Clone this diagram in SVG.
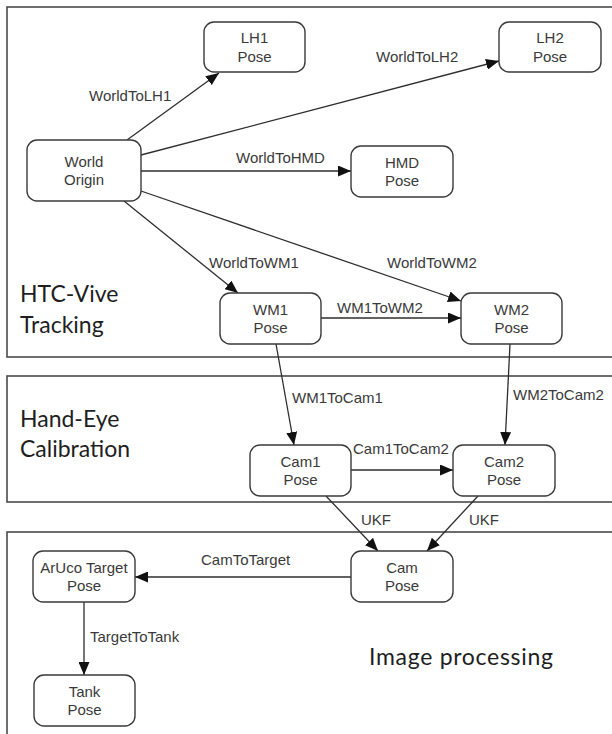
<svg xmlns="http://www.w3.org/2000/svg" width="612" height="734" viewBox="0 0 612 734">
  <style>
    .panel { fill: none; stroke: #4a4a4a; stroke-width: 1.6; }
    .node rect { fill: #ffffff; stroke: #3a3a3a; stroke-width: 1.4; }
    .node text, .lbl { font-family: "Liberation Sans", Arial, sans-serif; font-size: 15px; fill: #3a3a3a; text-anchor: middle; }
    .lbl { text-anchor: start; }
    .title { font-family: Lato, "Open Sans", sans-serif; font-size: 23px; fill: #1e1e1e; }
    .edges line { stroke: #2e2e2e; stroke-width: 1.3; marker-end: url(#arrow); }
  </style>
  <defs>
    <marker id="arrow" viewBox="0 0 13 11" refX="13" refY="5.5" markerWidth="13" markerHeight="11" markerUnits="userSpaceOnUse" orient="auto">
      <path d="M0,0 L13,5.5 L0,11 Z" fill="#111111"/>
    </marker>
  </defs>
  <rect width="612" height="734" fill="#ffffff"/>

  <!-- stage panels -->
  <g id="panels">
    <rect class="panel" x="7" y="7" width="620" height="350"/>
    <rect class="panel" x="7" y="376" width="620" height="126"/>
    <rect class="panel" x="7" y="532" width="620" height="220"/>
    <text class="title" x="20" y="302">HTC-Vive</text>
    <text class="title" x="20" y="333">Tracking</text>
    <text class="title" x="20" y="427">Hand-Eye</text>
    <text class="title" x="20" y="457">Calibration</text>
    <text class="title" x="369" y="665" textLength="184">Image processing</text>
  </g>

  <!-- connectors -->
  <g id="edges" class="edges">
    <line x1="127" y1="140" x2="219" y2="73"/>
    <line x1="141" y1="155" x2="499" y2="61"/>
    <line x1="141" y1="171" x2="351" y2="171"/>
    <line x1="124" y1="201" x2="238" y2="293"/>
    <line x1="141" y1="191" x2="461" y2="301"/>
    <line x1="321" y1="318" x2="461" y2="318"/>
    <line x1="276" y1="344" x2="294" y2="445"/>
    <line x1="510" y1="344" x2="505" y2="445"/>
    <line x1="351" y1="470" x2="453" y2="470"/>
    <line x1="326" y1="496" x2="378" y2="551"/>
    <line x1="478" y1="496" x2="427" y2="551"/>
    <line x1="351" y1="577" x2="135" y2="577"/>
    <line x1="84" y1="602" x2="84" y2="675"/>
  </g>

  <!-- connector labels -->
  <g id="edge-labels">
    <text class="lbl" x="89" y="101">WorldToLH1</text>
    <text class="lbl" x="376" y="62">WorldToLH2</text>
    <text class="lbl" x="236" y="163">WorldToHMD</text>
    <text class="lbl" x="209" y="268">WorldToWM1</text>
    <text class="lbl" x="387" y="268">WorldToWM2</text>
    <text class="lbl" x="337" y="313">WM1ToWM2</text>
    <text class="lbl" x="292" y="403">WM1ToCam1</text>
    <text class="lbl" x="513" y="400">WM2ToCam2</text>
    <text class="lbl" x="353" y="454">Cam1ToCam2</text>
    <text class="lbl" x="361" y="525">UKF</text>
    <text class="lbl" x="469" y="525">UKF</text>
    <text class="lbl" x="201" y="565">CamToTarget</text>
    <text class="lbl" x="90" y="642">TargetToTank</text>
  </g>

  <!-- nodes -->
  <g id="lh1" class="node"><rect x="204" y="22" width="101" height="50" rx="10"/><text x="254.5" y="43">LH1</text><text x="254.5" y="62">Pose</text></g>
  <g id="lh2" class="node"><rect x="499" y="22" width="102" height="50" rx="10"/><text x="550" y="43">LH2</text><text x="550" y="62">Pose</text></g>
  <g id="world" class="node"><rect x="27" y="140" width="114" height="61" rx="10"/><text x="84" y="167">World</text><text x="84" y="185">Origin</text></g>
  <g id="hmd" class="node"><rect x="351" y="146" width="102" height="51" rx="10"/><text x="402" y="168">HMD</text><text x="402" y="186">Pose</text></g>
  <g id="wm1" class="node"><rect x="220" y="293" width="101" height="51" rx="10"/><text x="270.5" y="315">WM1</text><text x="270.5" y="333">Pose</text></g>
  <g id="wm2" class="node"><rect x="461" y="293" width="101" height="51" rx="10"/><text x="511.5" y="315">WM2</text><text x="511.5" y="333">Pose</text></g>
  <g id="cam1" class="node"><rect x="250" y="445" width="101" height="51" rx="10"/><text x="300.5" y="467">Cam1</text><text x="300.5" y="485">Pose</text></g>
  <g id="cam2" class="node"><rect x="453" y="445" width="102" height="51" rx="10"/><text x="504" y="467">Cam2</text><text x="504" y="485">Pose</text></g>
  <g id="cam" class="node"><rect x="351" y="551" width="102" height="51" rx="10"/><text x="402" y="573">Cam</text><text x="402" y="591">Pose</text></g>
  <g id="aruco" class="node"><rect x="33" y="551" width="102" height="51" rx="10"/><text x="84" y="573">ArUco Target</text><text x="84" y="591">Pose</text></g>
  <g id="tank" class="node"><rect x="34" y="675" width="101" height="51" rx="10"/><text x="84.5" y="697">Tank</text><text x="84.5" y="715">Pose</text></g>
</svg>
